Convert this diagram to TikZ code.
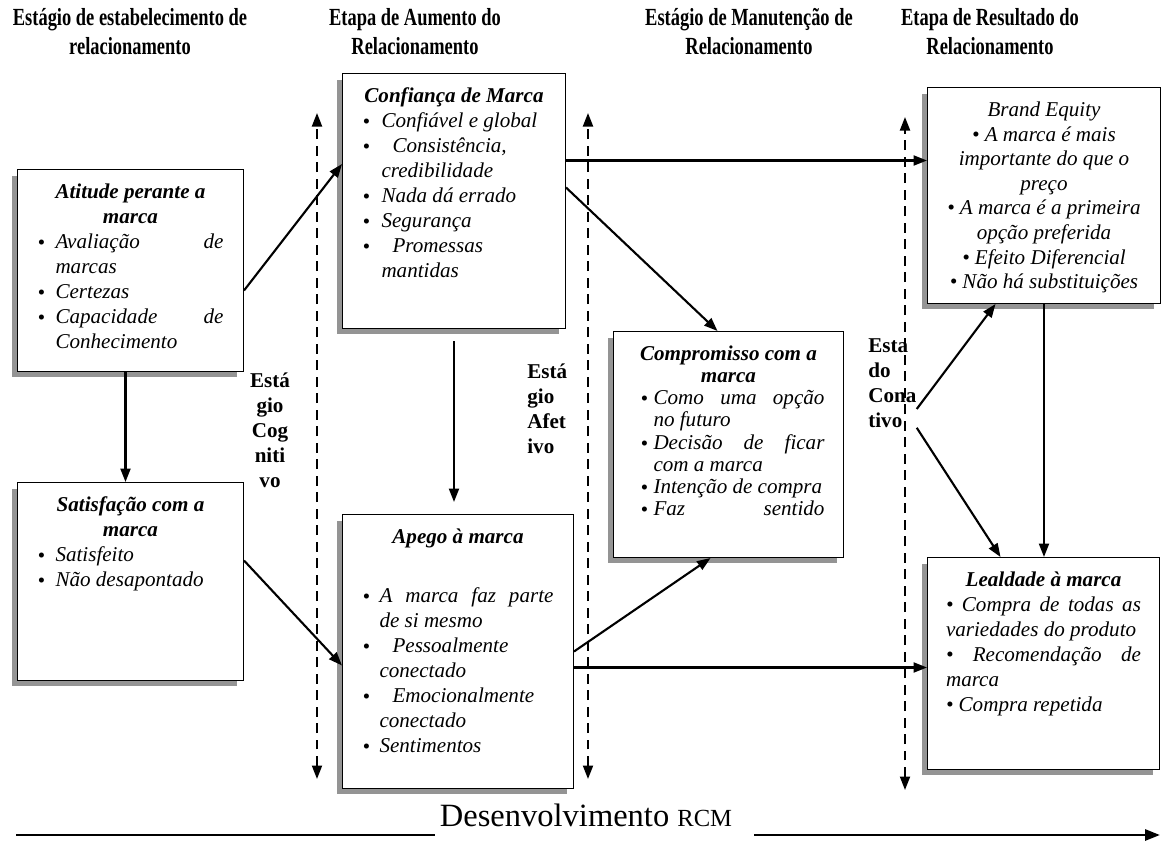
\documentclass[tikz,border=0pt]{standalone}
\usepackage{fontspec}
\setmainfont{Liberation Serif}
\newfontfamily\headfont[FakeStretch=0.75]{Liberation Serif}
\usetikzlibrary{arrows.meta, shadows}
\hyphenpenalty=10000
\exhyphenpenalty=10000
\newcommand{\bpt}[2][0.36cm]{\par\hangindent=#1\hangafter=1\noindent\makebox[#1][l]{\raisebox{-0.1ex}{\large\textbullet}}#2}
\tikzset{
  % Box styles
  cardbox/.style={rectangle, draw=black, line width=0.6pt, fill=white, anchor=north west, align=justify, inner xsep=0.4cm, inner ysep=0pt, text height=0.58cm, font=\fontsize{12}{14.2}\selectfont\itshape, drop shadow={shadow xshift=-0.12cm, shadow yshift=-0.12cm, fill=black!42, opacity=1}},
  headtext/.style={align=center, font=\headfont\fontsize{14}{16.5}\selectfont\bfseries},
  stagetext/.style={inner sep=0pt, font=\fontsize{12}{14.2}\selectfont\bfseries},
  % Arrow styles
  flowarrow/.style={-{Triangle[length=0.27cm,width=0.2cm]}, line width=1.2pt},
  stagearrow/.style={{Triangle[length=0.27cm,width=0.2cm]}-{Triangle[length=0.27cm,width=0.2cm]}, line width=1.1pt, dash pattern=on 0.2cm off 0.13cm},
  devline/.style={line width=1.6pt}
}
\begin{document}
\begin{tikzpicture}[x=0.02cm, y=-0.02cm]
  \useasboundingbox (0,0) rectangle (1163,842);

  % stage headings
  \node[headtext] (head1) at (130,32) {Estágio de estabelecimento de\\relacionamento};
  \node[headtext] (head2) at (415,32) {Etapa de Aumento do\\Relacionamento};
  \node[headtext] (head3) at (749,32) {Estágio de Manutenção de\\Relacionamento};
  \node[headtext] (head4) at (990,32) {Etapa de Resultado do\\Relacionamento};

  % boxes
  \node[cardbox, text width=3.72cm, text depth=3.46cm] (atitude) at (17,169) {%
    {\centering\bfseries Atitude perante a\\marca\par}
    \bpt{Avaliação de\linebreak marcas}
    \bpt{Certezas}
    \bpt{Capacidade de\linebreak Conhecimento}\par};

  \node[cardbox, text width=3.72cm, text depth=3.38cm] (satisf) at (17,482) {%
    {\centering\bfseries Satisfação com a\\marca\par}
    \bpt{Satisfeito}
    \bpt{Não desapontado}\par};

  \node[cardbox, text width=3.66cm, text depth=4.52cm] (confianca) at (342,73) {%
    {\centering\bfseries Confiança de Marca\par}
    \bpt[0.38cm]{Confiável e global}
    \bpt[0.38cm]{\hspace*{0.22cm}Consistência,\linebreak credibilidade}
    \bpt[0.38cm]{Nada dá errado}
    \bpt[0.38cm]{Segurança}
    \bpt[0.38cm]{\hspace*{0.22cm}Promessas\linebreak mantidas}\par};

  \node[cardbox, text width=3.82cm, text depth=4.90cm] (apego) at (342,514) {%
    {\centering\bfseries Apego à marca\par}
    \vspace{0.68cm}
    \bpt[0.34cm]{A marca faz parte\linebreak de si mesmo}
    \bpt[0.34cm]{\hspace*{0.26cm}Pessoalmente\linebreak conectado}
    \bpt[0.34cm]{\hspace*{0.26cm}Emocionalmente\linebreak conectado}
    \bpt[0.34cm]{Sentimentos}\par};

  \node[cardbox, inner xsep=0.38cm, text width=3.84cm, text depth=3.94cm, font=\fontsize{12}{12.6}\selectfont\itshape] (compromisso) at (613,331) {%
    {\centering\bfseries Compromisso com a\\marca\par}
    {\leftskip=0.16cm
    \bpt[0.26cm]{Como uma opção\linebreak no futuro}
    \bpt[0.26cm]{Decisão de ficar\linebreak com a marca}
    \bpt[0.26cm]{Intenção de compra}
    \bpt[0.26cm]{Faz\hfill sentido}\par}};

  \node[cardbox, inner xsep=0.28cm, text width=4.1cm, text depth=3.74cm, font=\fontsize{12}{14}\selectfont\itshape] (brand) at (927,87) {%
    {\centering Brand Equity\\
    \textbullet\ A marca é mais\\
    importante do que o\\
    preço\\
    \textbullet\ A marca é a primeira\\
    opção preferida\\
    \textbullet\ Efeito Diferencial\\
    \textbullet\ Não há substituições\par}};

  \node[cardbox, inner xsep=0.37cm, text width=3.9cm, text depth=3.66cm] (lealdade) at (927,557) {%
    {\centering\bfseries Lealdade à marca\par}
    \textbullet\ Compra de todas as\linebreak variedades do produto\par
    \textbullet\ Recomendação de\linebreak marca\par
    \textbullet\ Compra repetida\par};

  % stage labels
  \node[stagetext, align=center] (cognitivo) at (270,430) {Está\\gio\\Cog\\niti\\vo};
  \node[stagetext, align=left, anchor=west] (afetivo) at (527,409) {Está\\gio\\Afet\\ivo};
  \node[stagetext, align=left, anchor=west] (conativo) at (868,383) {Esta\\do\\Cona\\tivo};

  % stage dividers
  \coordinate (cogtop) at (317,113);
  \coordinate (cogbot) at (317,779);
  \coordinate (afetop) at (588,113);
  \coordinate (afebot) at (588,779);
  \coordinate (contop) at (905,117);
  \coordinate (conbot) at (905,790);
  \draw[stagearrow] (cogbot) -- (cogtop);
  \draw[stagearrow] (afebot) -- (afetop);
  \draw[stagearrow] (conbot) -- (contop);

  % connections
  \draw[flowarrow] ([xshift=-0.1cm]atitude.south) -- ([xshift=-0.1cm]satisf.north);
  \draw[flowarrow] ([yshift=-0.4cm]atitude.east) -- ([yshift=0.74cm]confianca.west);
  \draw[flowarrow] ([yshift=0.42cm]satisf.east) -- ([yshift=-0.28cm]apego.west);
  \draw[flowarrow] ([yshift=0.81cm]confianca.east) coordinate (c1) -- (c1 -| brand.west);
  \draw[flowarrow] ([yshift=0.27cm]confianca.east) -- ([xshift=-0.22cm]compromisso.north);
  \draw[flowarrow, shorten <=0.24cm, shorten >=0.24cm] (confianca.south) -- (confianca.south |- apego.north);
  \draw[flowarrow] (apego.east) -- ([xshift=-0.36cm]compromisso.south);
  \draw[flowarrow] ([yshift=-0.32cm]apego.east) coordinate (a1) -- (a1 -| lealdade.west);
  \draw[flowarrow] ([yshift=-0.52cm]conativo.east) -- ([xshift=-0.97cm]brand.south);
  \draw[flowarrow] (conativo.south east) -- ([xshift=-0.86cm]lealdade.north);
  \draw[flowarrow] (brand.south) -- (brand.south |- lealdade.north);

  % development axis
  \node[font=\fontsize{18.5}{20}\selectfont, inner xsep=0.1cm] (dev) at (586,815) {Desenvolvimento {\fontsize{14}{16}\selectfont RCM}};
  \coordinate (devstart) at (16,835);
  \coordinate (devend) at (1160,835);
  \coordinate (devgap) at ([xshift=0.34cm]dev.east);
  \draw[devline] (devstart) -- (devstart -| dev.west);
  \draw[devline, -{Triangle[length=0.3cm,width=0.22cm]}] (devgap |- devend) -- (devend);
\end{tikzpicture}
\end{document}
